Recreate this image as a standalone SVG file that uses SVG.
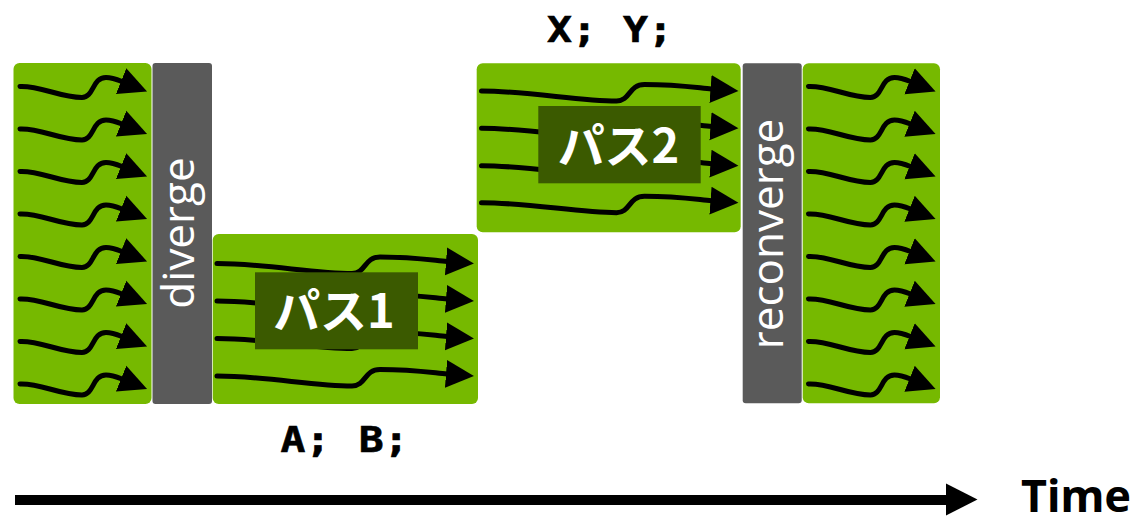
<svg xmlns="http://www.w3.org/2000/svg" xmlns:xlink="http://www.w3.org/1999/xlink" width="1148" height="516" viewBox="0 0 1148 516">
  <style>
    .lane { fill: #76b900; }
    .bar { fill: #5a5a5a; }
    .tag { fill: #3b5a00; }
    .flow { fill: none; stroke: #000; stroke-width: 5; stroke-linecap: round; marker-end: url(#head); }
    .barText { font-family: "Open Sans", "Noto Sans", sans-serif; font-size: 44px; fill: #fff; text-anchor: middle; }
    .tagText { font-family: "Noto Sans CJK JP", "Noto Sans", sans-serif; font-weight: 700; font-size: 47px; fill: #fff; text-anchor: middle; }
    .code { font-family: "DejaVu Sans Mono", "Liberation Mono", monospace; font-weight: 700; font-size: 36px; fill: #000; stroke: #000; stroke-width: 0.6; }
    .axisText { font-family: "Noto Sans", "Open Sans", sans-serif; font-weight: 700; font-size: 45px; fill: #000; }
  </style>
  <defs>
    <marker id="head" markerUnits="userSpaceOnUse" markerWidth="30" markerHeight="30" viewBox="0 -15 30 30" refX="1" refY="0" orient="auto">
      <path d="M0,-14 L28,0 L0,14 z" fill="#000"/>
    </marker>
    <!-- short, wiggly thread (full-width lanes) -->
    <path id="wave" class="flow" d="M0,1 C20,0 40,12 62,12 C74,12 72,-8 86,-8 C92,-8 97,-6 102,-4"/>
    <!-- long thread (branch lanes) -->
    <path id="longWave" class="flow" d="M0,0 C47,0 97,10 135,10 C149,10 147,-6.5 163,-6.5 C197,-6.5 217,-3 230,-2"/>
  </defs>

  <!-- all threads before the branch -->
  <g id="before">
    <rect class="lane" x="13.5" y="63" width="138" height="341" rx="6"/>
    <use xlink:href="#wave" x="20" y="85.5"/>
    <use xlink:href="#wave" x="20" y="128"/>
    <use xlink:href="#wave" x="20" y="170.5"/>
    <use xlink:href="#wave" x="20" y="213"/>
    <use xlink:href="#wave" x="20" y="255.5"/>
    <use xlink:href="#wave" x="20" y="298"/>
    <use xlink:href="#wave" x="20" y="340.5"/>
    <use xlink:href="#wave" x="20" y="383"/>
  </g>

  <g id="diverge">
    <rect class="bar" x="152.5" y="63" width="59.5" height="341" rx="3"/>
    <text class="barText" transform="translate(194,233) rotate(-90)">diverge</text>
  </g>

  <g id="path1">
    <rect class="lane" x="212.7" y="234" width="265.3" height="170" rx="6"/>
    <use xlink:href="#longWave" x="217" y="263.5"/>
    <use xlink:href="#longWave" x="217" y="301"/>
    <use xlink:href="#longWave" x="217" y="338.5"/>
    <use xlink:href="#longWave" x="217" y="376"/>
    <rect class="tag" x="255" y="272.3" width="163" height="77"/>
    <text class="tagText" x="334" y="328">パス1</text>
  </g>

  <g id="path2">
    <rect class="lane" x="476.7" y="63.3" width="264" height="169" rx="6"/>
    <use xlink:href="#longWave" x="481.5" y="91"/>
    <use xlink:href="#longWave" x="481.5" y="128.3"/>
    <use xlink:href="#longWave" x="481.5" y="165.7"/>
    <use xlink:href="#longWave" x="481.5" y="202.7"/>
    <rect class="tag" x="538.3" y="106" width="162.4" height="77.3"/>
    <text class="tagText" x="618.5" y="163">パス2</text>
  </g>

  <g id="reconverge">
    <rect class="bar" x="742.7" y="63.3" width="59" height="340" rx="3"/>
    <text class="barText" transform="translate(783,234) rotate(-90)">reconverge</text>
  </g>

  <!-- all threads after reconvergence -->
  <g id="after">
    <rect class="lane" x="802.7" y="63.3" width="137.3" height="340" rx="6"/>
    <use xlink:href="#wave" x="808.5" y="85.5"/>
    <use xlink:href="#wave" x="808.5" y="128"/>
    <use xlink:href="#wave" x="808.5" y="170.5"/>
    <use xlink:href="#wave" x="808.5" y="213"/>
    <use xlink:href="#wave" x="808.5" y="255.5"/>
    <use xlink:href="#wave" x="808.5" y="298"/>
    <use xlink:href="#wave" x="808.5" y="340.5"/>
    <use xlink:href="#wave" x="808.5" y="383"/>
  </g>

  <!-- statements executed by each branch -->
  <g id="code-xy">
    <text class="code" transform="translate(547,41.7) scale(1.15,1)"><tspan x="0">X;</tspan><tspan x="66.1">Y;</tspan></text>
  </g>
  <g id="code-ab">
    <text class="code" transform="translate(280.5,451.7) scale(1.15,1)"><tspan x="0">A;</tspan><tspan x="68.1">B;</tspan></text>
  </g>

  <g id="connectors">
    <g id="timeline">
      <rect x="15" y="495" width="932" height="10" fill="#000"/>
      <polygon points="946,483.5 977.5,499.5 946,515.5" fill="#000"/>
      <text class="axisText" x="1021" y="512">Time</text>
    </g>
  </g>
</svg>
